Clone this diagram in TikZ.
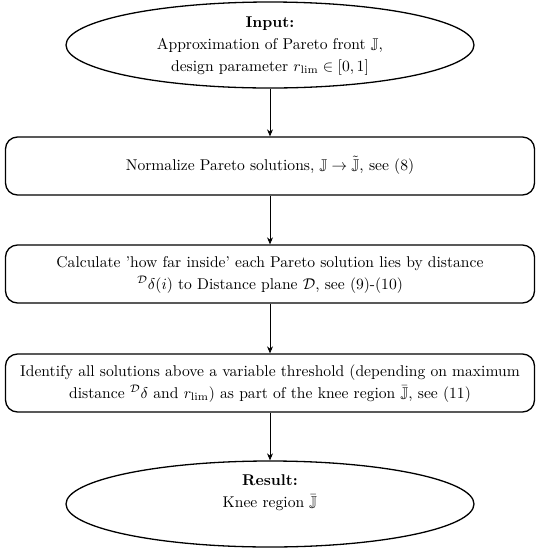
\documentclass[tikz,border=0pt]{standalone}
\usepackage{amssymb}
\usepackage{graphicx}
\usetikzlibrary{shapes.geometric,arrows.meta}
\newcommand{\ftxt}[1]{\scalebox{1.56}{\fontsize{10}{14}\selectfont\begin{tabular}{@{}c@{}}#1\end{tabular}}}
\begin{document}
\begin{tikzpicture}[x=1pt,y=-1pt,
  ell/.style={draw,line width=1.3pt,ellipse,minimum width=408pt,minimum height=86pt,inner sep=0pt},
  procbox/.style={draw,line width=1.3pt,rounded corners=12pt,minimum width=529pt,minimum height=58pt,align=center,inner sep=0pt},
  conn/.style={line width=0.9pt,-{Stealth[length=7pt,width=6pt]}}]
\useasboundingbox (0,0) rectangle (540,550);
\node[ell] (inp) at (270,45) {};
\node[inner sep=0pt] (inptext) at (270,45) {\ftxt{\textbf{Input:}\\Approximation of Pareto front $\mathbb{J}$,\\design parameter $r_{\mathrm{lim}}\in[0,1]$}};
\node[procbox] (b1) at (270,166) {\ftxt{Normalize Pareto solutions, $\mathbb{J}\rightarrow\tilde{\mathbb{J}}$, see (8)}};
\node[procbox] (b2) at (270,274) {\ftxt{Calculate 'how far inside' each Pareto solution lies by distance\\${}^{\mathcal{D}}\delta(i)$ to Distance plane $\mathcal{D}$, see (9)-(10)}};
\node[procbox] (b3) at (270,383) {\ftxt{Identify all solutions above a variable threshold (depending on maximum\\distance ${}^{\mathcal{D}}\delta$ and $r_{\mathrm{lim}}$) as part of the knee region $\bar{\mathbb{J}}$, see (11)}};
\node[ell] (res) at (270,504) {};
\node[inner sep=0pt] (restext) at (270,492) {\ftxt{\textbf{Result:}\\Knee region $\bar{\mathbb{J}}$}};
\draw[conn] (inp.south) -- (b1.north);
\draw[conn] (b1.south) -- (b2.north);
\draw[conn] (b2.south) -- (b3.north);
\draw[conn] (b3.south) -- (res.north);
\end{tikzpicture}
\end{document}
